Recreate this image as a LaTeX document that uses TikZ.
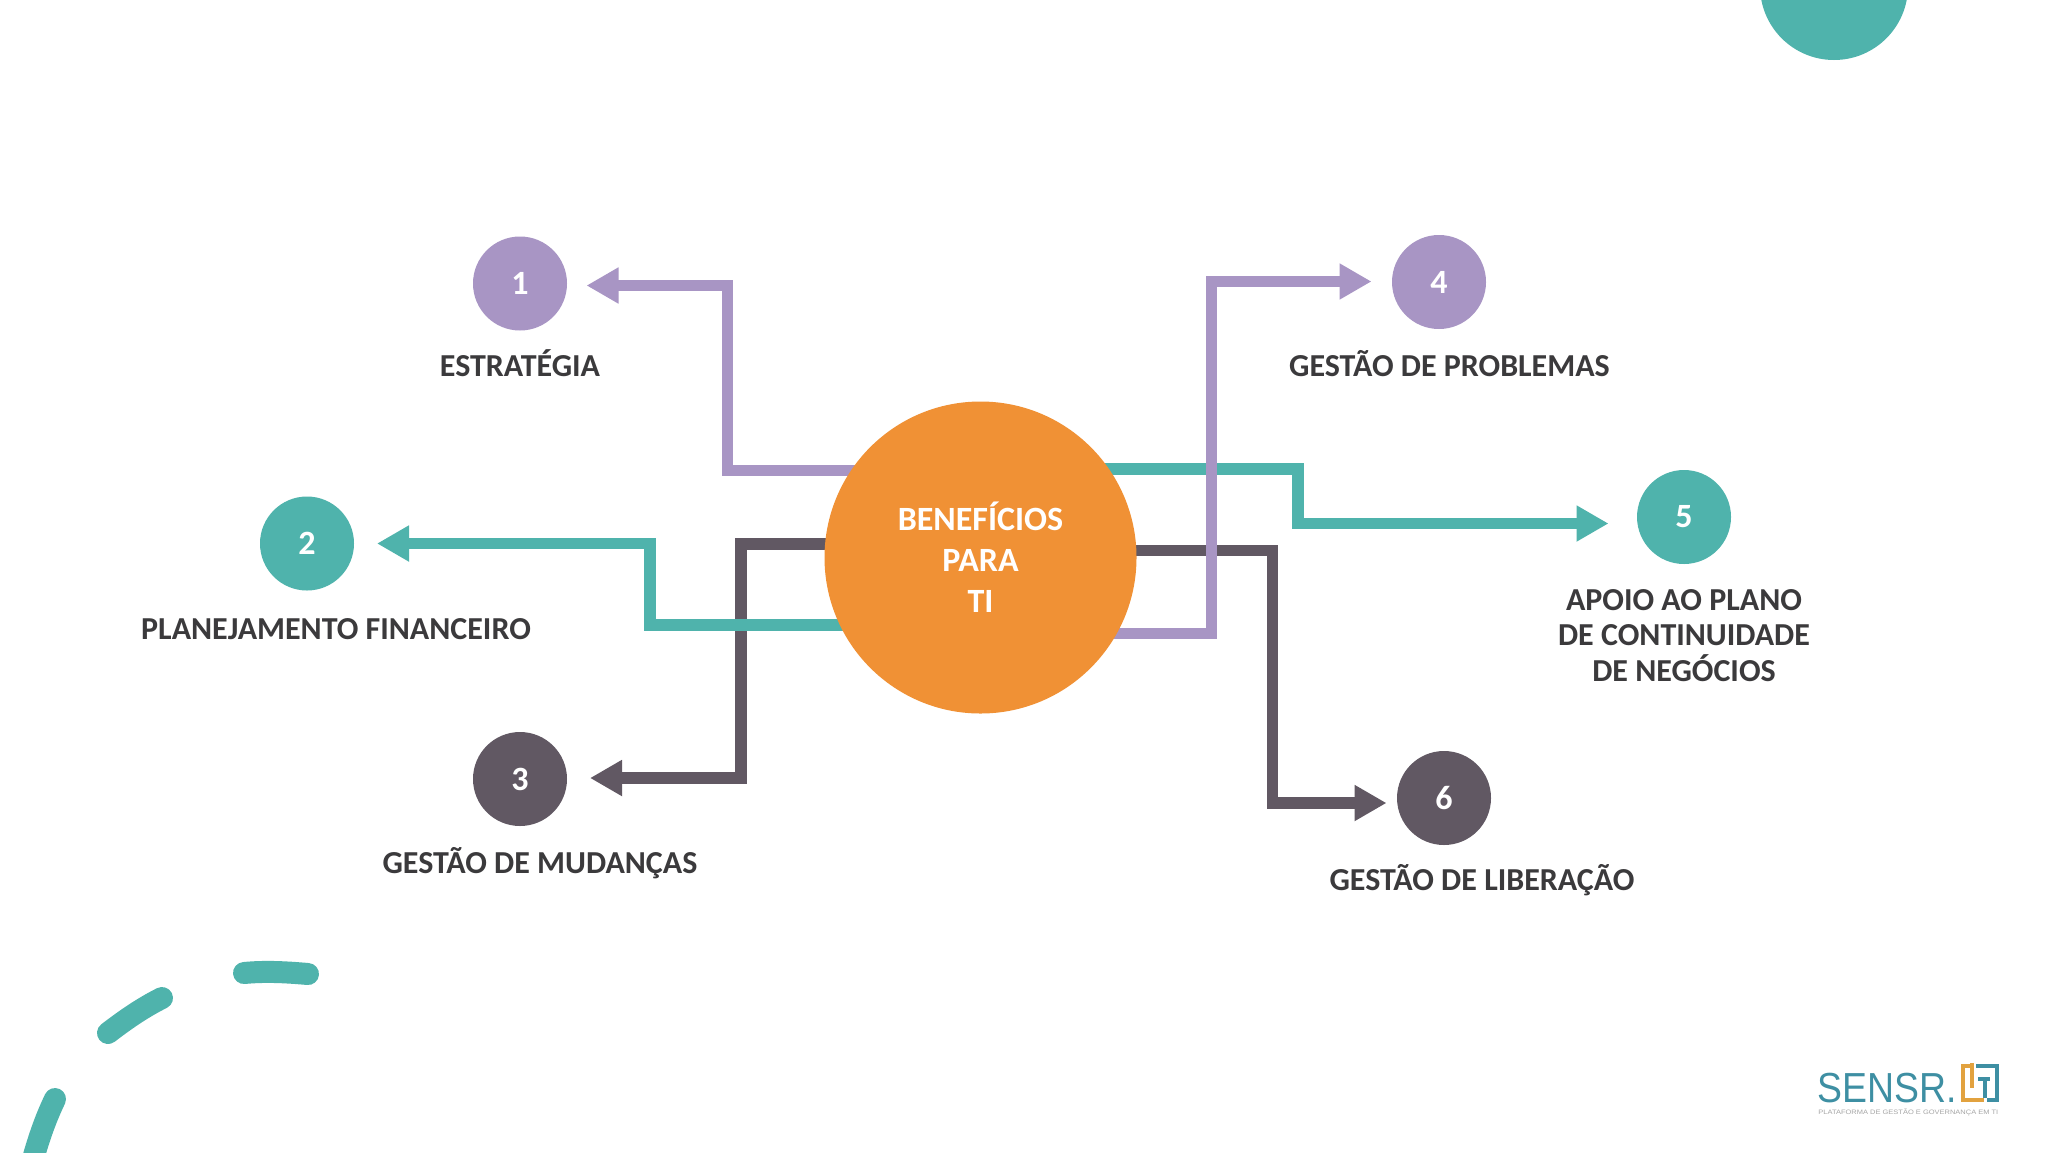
\documentclass[tikz,border=0pt]{standalone}
\usepackage{fontspec}
\setmainfont{Carlito}
\newfontfamily\logofont{Liberation Sans}
\usetikzlibrary{arrows.meta,backgrounds,calc}
\definecolor{cpur}{HTML}{A895C4}
\definecolor{cteal}{HTML}{4FB3AC}
\definecolor{cdark}{HTML}{615863}
\definecolor{corg}{HTML}{F09135}
\definecolor{ctxt}{HTML}{3B3A3C}
\definecolor{clogo}{HTML}{3E8FA3}
\definecolor{clogoo}{HTML}{E2A23F}
\tikzset{
  x=.5pt,y=-.5pt,
  num/.style={circle,minimum size=47pt,inner sep=0pt,text=white,font=\fontsize{17}{17}\selectfont\bfseries},
  lab/.style={text=ctxt,font=\fontsize{16}{17.6}\selectfont\bfseries,align=center,inner sep=0pt},
  conn/.style={line width=5.8pt,line join=miter,-{Triangle[length=16pt,width=17pt]}},
  dashy/.style={cteal,line width=11pt,line cap=round},
  logoline/.style={line width=1.6pt}
}
\begin{document}
\begin{tikzpicture}
\useasboundingbox (0,0) rectangle (2048,1152);
% corner circle
\begin{scope}
\clip (0,0) rectangle (2048,1152);
\fill[cteal] (1834,-14) circle[radius=74];
\draw[dashy] (244,973) .. controls (265,971) and (285,972) .. (308,974);
\draw[dashy] (108,1033) .. controls (125,1020) and (142,1008) .. (162,998);
\draw[dashy] (55,1099) .. controls (45,1120) and (38,1140) .. (30,1170);
\end{scope}
% centre
\node[circle,fill=corg,minimum size=156pt,inner sep=0pt,text=white,align=center,
  font=\fontsize{17}{20.3}\selectfont\bfseries] (ctr) at (980.5,557.5) {\raisebox{.8pt}{BENEFÍCIOS}\\\raisebox{.5pt}{PARA}\\\raisebox{.5pt}{TI}};
% numbers
\node[num,fill=cpur] (n1) at (520,283.5) {\raisebox{-.7pt}{1}};
\node[num,fill=cteal] (n2) at (307,543.5) {\raisebox{-.7pt}{2}};
\node[num,fill=cdark] (n3) at (520,779) {\raisebox{-.7pt}{3}};
\node[num,fill=cpur] (n4) at (1439,282) {\raisebox{-.7pt}{4}};
\node[num,fill=cteal] (n5) at (1684,517) {\raisebox{-.7pt}{5}};
\node[num,fill=cdark] (n6) at (1444,798) {\raisebox{-.7pt}{6}};
% connector ends
\coordinate (t1) at ($(n1)+(66.5,2)$);
\coordinate (t2) at ($(n2)+(70,0)$);
\coordinate (t3) at ($(n3)+(70,-1)$);
\coordinate (t4) at ($(n4)+(-67.5,-0.5)$);
\coordinate (t5) at ($(n5)+(-75.5,6.5)$);
\coordinate (t6) at ($(n6)+(-57.5,5)$);
\begin{scope}[on background layer]
\fill[white] (0,0) rectangle (2048,1152);
\draw[conn,cdark] (ctr.center) ++(0,-13.5) -- ++(-239.5,0) |- (t3);
\draw[conn,cteal] (ctr.center) ++(0,67.5) -- ++(-330.5,0) |- (t2);
\draw[conn,cpur] (ctr.center) ++(0,-87) -- ++(-253,0) |- (t1);
\draw[conn,cdark] (ctr.center) ++(0,-7) -- ++(292,0) |- (t6);
\draw[conn,cteal] (ctr.center) ++(0,-88.5) -- ++(317.5,0) |- (t5);
\draw[conn,cpur] (ctr.center) ++(0,76) -- ++(231,0) |- (t4);
\end{scope}
% labels
\node[lab] (l1) at (520,363.5) {ESTRATÉGIA};
\node[lab] (l2) at (336,629) {PLANEJAMENTO FINANCEIRO};
\node[lab] (l3) at (540,863) {GESTÃO DE MUDANÇAS};
\node[lab] (l4) at (1449.5,364) {GESTÃO DE PROBLEMAS};
\node[lab] (l5) at (1684,635.5) {APOIO AO PLANO\\DE CONTINUIDADE\\DE NEGÓCIOS};
\node[lab] (l6) at (1482,880.5) {GESTÃO DE LIBERAÇÃO};
% logo
\node[anchor=base west,inner sep=0pt,text=clogo,font=\logofont\fontsize{21}{21}\selectfont] (logo) at (1817,1102) {\scalebox{.89}[1]{SENSR.}};
\node[anchor=base west,inner sep=0pt,text=black!35,font=\logofont\fontsize{3.2}{3.2}\selectfont] (tag) at (1818,1114) {\scalebox{1.17}[1]{PLATAFORMA DE GESTÃO E GOVERNANÇA EM TI}};
\draw[logoline,clogoo] (1972,1066) -- (1963,1066) -- (1963,1100) -- (1984,1100);
\draw[logoline,clogoo] (1972,1063) -- (1972,1088);
\draw[logoline,clogo] (1976,1066) -- (1997,1066) -- (1997,1100) -- (1987,1100);
\draw[logoline,clogo] (1978,1079) -- (1990,1079) (1985,1079) -- (1985,1098);
\end{tikzpicture}
\end{document}
